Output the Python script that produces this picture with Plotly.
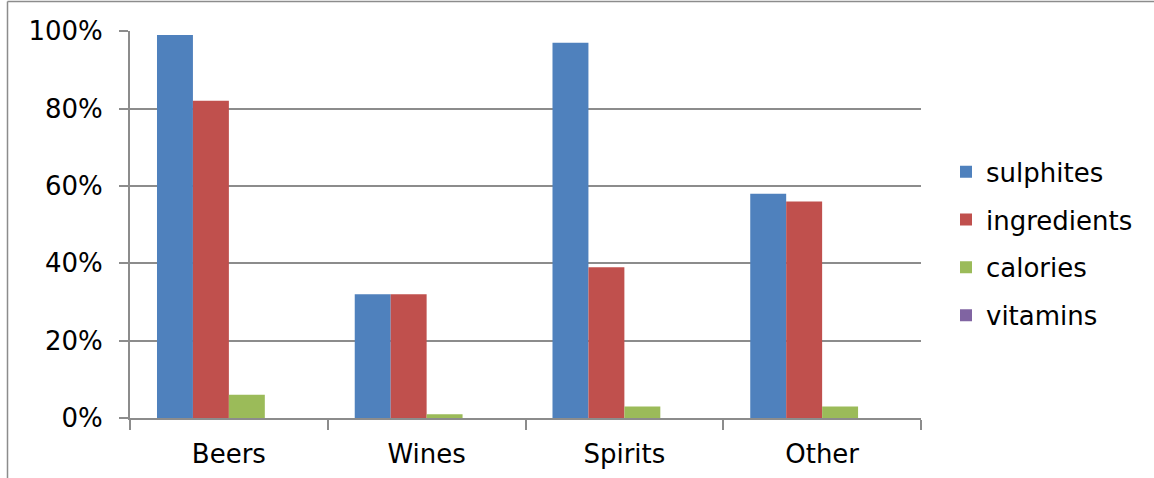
import plotly.graph_objects as go

# Share of labelled products per drink category
categories = ["Beers", "Wines", "Spirits", "Other"]
sulphites = [0.99, 0.32, 0.97, 0.58]
ingredients = [0.82, 0.32, 0.39, 0.56]
calories = [0.06, 0.01, 0.03, 0.03]
vitamins = [0.0, 0.0, 0.0, 0.0]

series = [
    ("sulphites", sulphites, "#4F81BD"),
    ("ingredients", ingredients, "#C0504D"),
    ("calories", calories, "#9BBB59"),
    ("vitamins", vitamins, "#8064A2"),
]

GRID = "#8C8C8C"
FONT = "DejaVu Sans, Verdana, sans-serif"

fig = go.Figure()
for i, (name, vals, color) in enumerate(series):
    fig.add_trace(go.Bar(
        x=categories, y=vals, name=name,
        marker=dict(color=color, line=dict(width=0)),
        legendgroup=f"g{i}",
    ))

W, H = 1154, 478
L, R, T, B = 130, 233, 31, 60
pw = W - L - R
ph = H - T - B

# frame lines of the surrounding chart area
fx = (7.5 - L) / pw
fy = (H - 1.5 - B) / ph
fig.add_shape(type="line", xref="paper", yref="paper", x0=fx, x1=fx, y0=(-2 - B) / ph, y1=fy,
              line=dict(color="#8C8C8C", width=1.5))
fig.add_shape(type="line", xref="paper", yref="paper", x0=fx, x1=(W - L) / pw, y0=fy, y1=fy,
              line=dict(color="#8C8C8C", width=1.5))

fig.update_layout(
    width=W, height=H,
    margin=dict(l=L, r=R, t=T, b=B, pad=0, autoexpand=False),
    paper_bgcolor="white", plot_bgcolor="white",
    barmode="group", bargap=0.273, bargroupgap=0,
    font=dict(family=FONT, size=26, color="black"),
    legend=dict(
        x=(946 - L) / pw, xanchor="left",
        y=0.45, yanchor="middle",
        font=dict(size=26),
        tracegroupgap=11,
        bgcolor="rgba(0,0,0,0)",
    ),
    xaxis=dict(
        automargin=False,
        showline=True, linecolor=GRID, linewidth=2,
        ticks="outside", tickson="boundaries", ticklen=10, tickcolor=GRID, tickwidth=2,
        showgrid=False,
        ticklabelstandoff=12,
    ),
    yaxis=dict(
        automargin=False,
        range=[0, 1.0005], dtick=0.2, tickformat=".0%",
        showline=True, linecolor=GRID, linewidth=2,
        ticks="outside", ticklen=9, tickcolor=GRID, tickwidth=2,
        showgrid=True, gridcolor=GRID, gridwidth=1.5,
        zeroline=False,
        ticklabelstandoff=11,
    ),
)

fig.write_html("out.html")
